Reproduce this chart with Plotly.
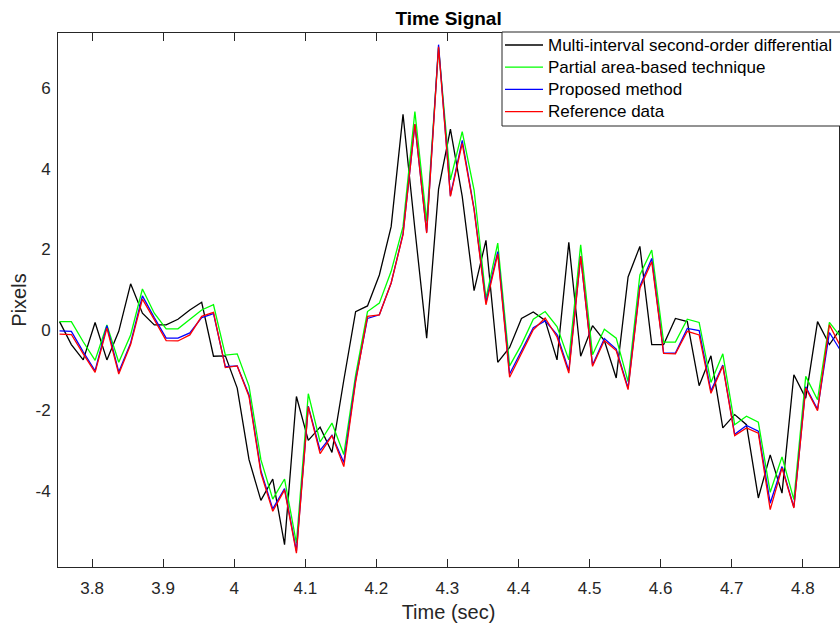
import plotly.graph_objects as go

time_s = [3.7542, 3.7708, 3.7875, 3.8042, 3.8208, 3.8375, 3.8542, 3.8708, 3.8875, 3.9042,
          3.9208, 3.9375, 3.9542, 3.9708, 3.9875, 4.0042, 4.0208, 4.0375, 4.0542, 4.0708,
          4.0875, 4.1042, 4.1208, 4.1375, 4.1542, 4.1708, 4.1875, 4.2042, 4.2208, 4.2375,
          4.2542, 4.2708, 4.2875, 4.3042, 4.3208, 4.3375, 4.3542, 4.3708, 4.3875, 4.4042,
          4.4208, 4.4375, 4.4542, 4.4708, 4.4875, 4.5042, 4.5208, 4.5375, 4.5542, 4.5708,
          4.5875, 4.6042, 4.6208, 4.6375, 4.6542, 4.6708, 4.6875, 4.7042, 4.7208, 4.7375,
          4.7542, 4.7708, 4.7875, 4.8042, 4.8208, 4.8375, 4.8542]

multi_interval = [0.20, -0.37, -0.75, 0.18, -0.75, -0.04, 1.14, 0.41, 0.12, 0.12,
                  0.26, 0.49, 0.68, -0.66, -0.65, -1.45, -3.23, -4.24, -3.71, -5.34,
                  -1.66, -2.75, -2.42, -3.05, -1.25, 0.45, 0.59, 1.36, 2.56, 5.35,
                  2.50, -0.21, 3.49, 4.98, 3.31, 0.97, 2.22, -0.81, -0.44, 0.28,
                  0.44, 0.23, -0.75, 2.17, -0.66, 0.10, -0.27, -1.20, 1.31, 2.07,
                  -0.37, -0.37, 0.28, 0.20, -1.39, -0.65, -2.44, -2.11, -2.36, -4.18,
                  -3.11, -4.06, -1.12, -1.70, 0.20, -0.37, 0.05]

partial_area = [0.20, 0.20, -0.30, -0.76, 0.12, -0.81, -0.13, 1.01, 0.41, 0.02,
                0.02, 0.25, 0.49, 0.62, -0.63, -0.60, -1.40, -3.23, -4.21, -3.71,
                -5.30, -1.59, -2.79, -2.32, -3.10, -1.13, 0.45, 0.66, 1.45, 2.56,
                5.42, 2.69, 7.00, 3.72, 4.92, 3.47, 0.78, 2.15, -0.90, -0.37,
                0.26, 0.45, 0.08, -0.75, 2.11, -0.62, 0.01, -0.21, -1.29, 1.36,
                1.98, -0.31, -0.31, 0.26, 0.18, -1.31, -0.60, -2.36, -2.15, -2.30,
                -4.04, -3.16, -4.22, -1.16, -1.74, 0.18, -0.20]

proposed = [-0.03, -0.04, -0.55, -1.02, 0.10, -1.05, -0.33, 0.84, 0.30, -0.21,
            -0.21, -0.08, 0.30, 0.40, -0.92, -0.90, -1.62, -3.50, -4.45, -3.95,
            -5.50, -1.90, -3.00, -2.62, -3.30, -1.25, 0.28, 0.37, 1.16, 2.38,
            5.10, 2.42, 7.08, 3.33, 4.70, 3.00, 0.68, 1.94, -1.10, -0.52,
            0.05, 0.22, -0.12, -1.02, 1.82, -0.88, -0.22, -0.48, -1.45, 1.08,
            1.77, -0.58, -0.58, 0.03, -0.02, -1.52, -0.88, -2.60, -2.38, -2.52,
            -4.31, -3.40, -4.41, -1.42, -1.98, -0.07, -0.55]

reference = [-0.11, -0.12, -0.60, -1.06, 0.04, -1.10, -0.37, 0.76, 0.25, -0.27,
             -0.28, -0.13, 0.33, 0.43, -0.94, -0.90, -1.66, -3.56, -4.51, -3.98,
             -5.55, -1.91, -3.08, -2.63, -3.40, -1.30, 0.33, 0.37, 1.16, 2.36,
             5.11, 2.40, 7.03, 3.31, 4.63, 2.98, 0.62, 1.88, -1.18, -0.58,
             0.00, 0.29, -0.18, -1.08, 1.82, -0.91, -0.27, -0.52, -1.49, 1.03,
             1.69, -0.59, -0.60, -0.04, -0.13, -1.58, -0.90, -2.63, -2.44, -2.57,
             -4.47, -3.44, -4.43, -1.45, -2.01, 0.12, -0.45]

x_ticks = [3.8, 3.9, 4.0, 4.1, 4.2, 4.3, 4.4, 4.5, 4.6, 4.7, 4.8]
x_tick_text = ["3.8", "3.9", "4", "4.1", "4.2", "4.3", "4.4", "4.5", "4.6", "4.7", "4.8"]
y_ticks = [-4, -2, 0, 2, 4, 6]
y_tick_text = ["-4", "-2", "0", "2", "4", "6"]
x_range = [3.752, 4.851]
y_range = [-5.895, 7.37]

series_names = ["Multi-interval second-order differential", "Partial area-based technique",
                "Proposed method", "Reference data"]
series_values = [multi_interval, partial_area, proposed, reference]
series_colors = ["#000000", "#00FF00", "#0000FF", "#FF0000"]

FONT = "Liberation Sans, Arial, Helvetica, sans-serif"
AXC = "#262626"
W, H = 840, 629
ML, MR, MT, MB = 58, 1, 33, 62
PW, PH = W - ML - MR, H - MT - MB


def px_x(p):
    return (p - ML) / PW


def px_y(p):
    return (H - MB - p) / PH


fig = go.Figure()
for name, vals, col in zip(series_names, series_values, series_colors):
    fig.add_trace(go.Scatter(x=time_s, y=vals, mode="lines", name=name,
                             line=dict(color=col, width=1.3), showlegend=False))

# MATLAB-style legend box (drawn manually for tight row spacing)
shapes = [dict(type="rect", xref="paper", yref="paper",
               x0=px_x(502), x1=px_x(842), y0=px_y(126), y1=px_y(32),
               fillcolor="white", line=dict(color=AXC, width=1), layer="above")]
annotations = []
for i, (name, col) in enumerate(zip(series_names, series_colors)):
    row = 45 + 22.2 * i
    shapes.append(dict(type="line", xref="paper", yref="paper",
                       x0=px_x(505), x1=px_x(543), y0=px_y(row), y1=px_y(row),
                       line=dict(color=col, width=1.3), layer="above"))
    annotations.append(dict(text=name, xref="paper", yref="paper",
                            x=px_x(546), y=px_y(row), xanchor="left", yanchor="middle",
                            showarrow=False, font=dict(family=FONT, size=17, color="#000000")))

fig.update_layout(
    width=W, height=H,
    margin=dict(l=ML, r=MR, t=MT, b=MB),
    paper_bgcolor="white", plot_bgcolor="white",
    font=dict(family=FONT, size=17, color=AXC),
    title=dict(text="<b>Time Signal</b>", x=0.534, xanchor="center",
               y=1 - 18 / H, yanchor="middle", yref="container",
               font=dict(family=FONT, size=19, color="#000000")),
    showlegend=False,
    shapes=shapes,
    annotations=annotations,
    xaxis=dict(range=x_range, tickvals=x_ticks, ticktext=x_tick_text,
               ticks="inside", ticklen=8, tickcolor=AXC, showline=True,
               linecolor=AXC, linewidth=1, mirror="ticks", showgrid=False,
               zeroline=False, tickfont=dict(size=17, color=AXC), ticklabelstandoff=6,
               title=dict(text="Time (sec)", font=dict(size=20, color=AXC), standoff=7)),
    # labelled y axis (no tick marks so labels sit close to the axis line)
    yaxis=dict(range=y_range, tickvals=y_ticks, ticktext=y_tick_text, ticks="",
               showline=True, linecolor=AXC, linewidth=1, mirror=True, showgrid=False,
               zeroline=False, tickfont=dict(size=17, color=AXC), ticklabelstandoff=3,
               title=dict(text="Pixels", font=dict(size=20, color=AXC), standoff=3)),
    # overlay axis providing inward tick marks on both sides
    yaxis2=dict(range=y_range, tickvals=y_ticks, overlaying="y", side="left",
                ticks="inside", ticklen=8, tickcolor=AXC, showticklabels=False,
                showline=True, linecolor=AXC, linewidth=1, mirror="ticks",
                showgrid=False, zeroline=False),
)

fig.write_html("out.html")
